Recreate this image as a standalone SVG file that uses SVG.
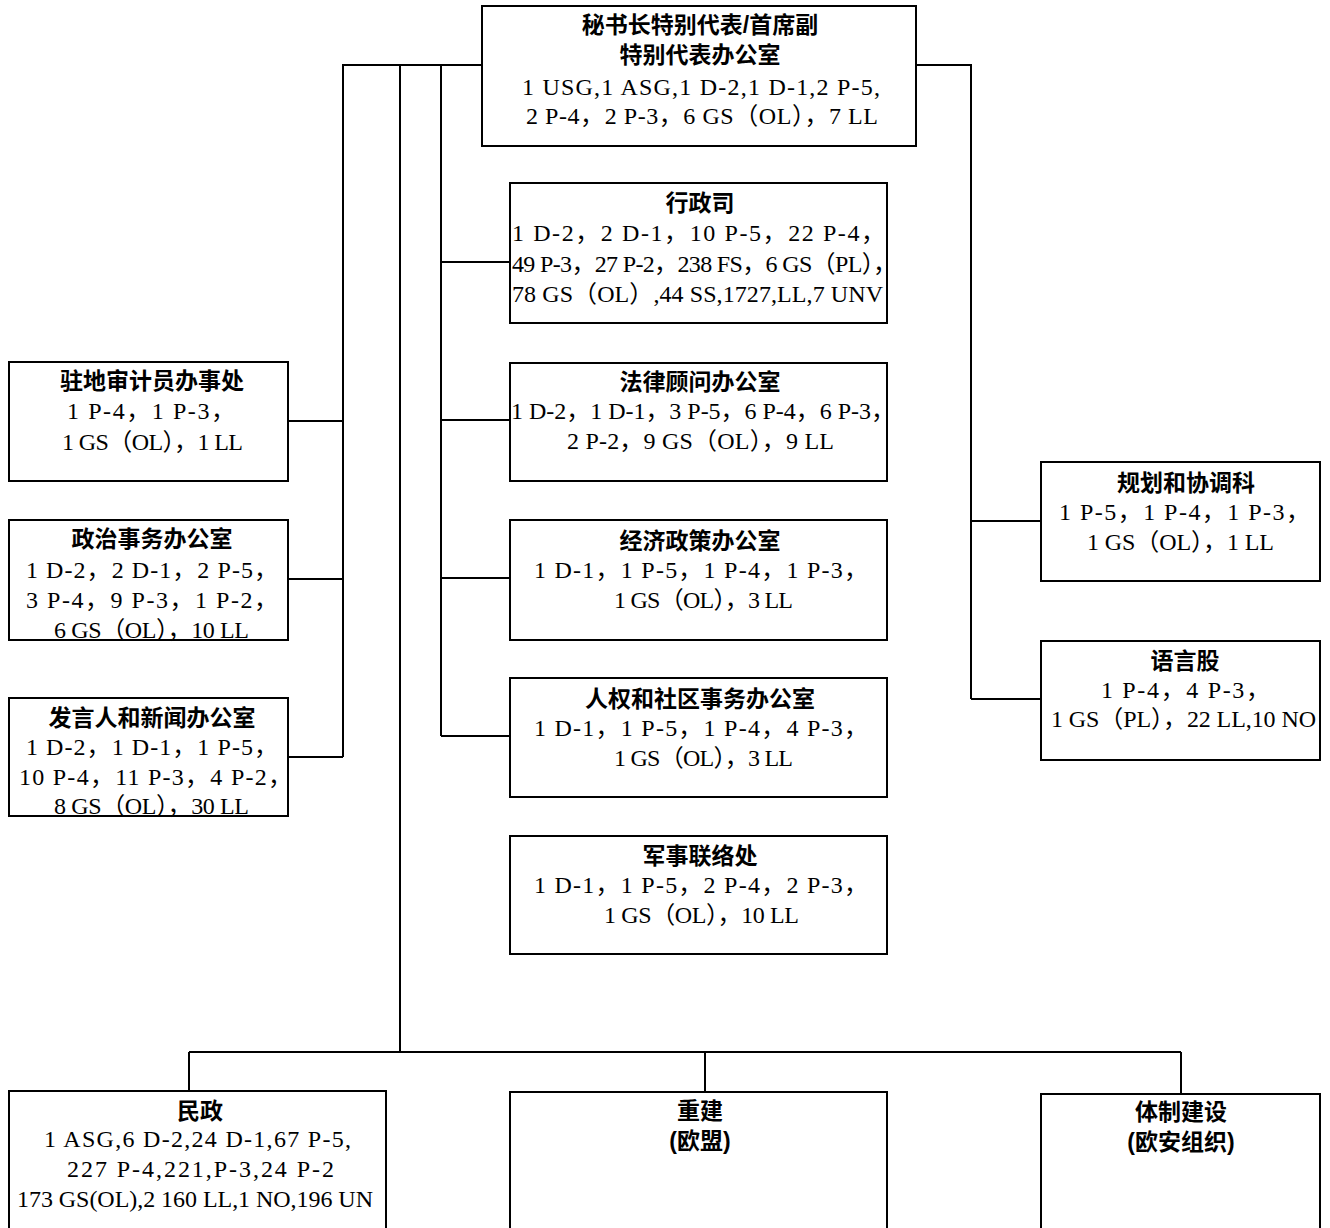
<svg xmlns="http://www.w3.org/2000/svg" width="1330" height="1228" viewBox="0 0 1330 1228">
<style>
.bg{fill:#fff}
.box{fill:#fff;stroke:#000;stroke-width:2}
.c{fill:none;stroke:#000;stroke-width:2}
.t{font-family:"Liberation Sans","Noto Sans CJK SC",sans-serif;font-weight:bold;font-size:23px;text-anchor:middle;fill:#000}
.d{font-family:"Liberation Serif","Noto Sans CJK SC",serif;font-size:24px;fill:#000}
</style>
<rect class="bg" x="0" y="0" width="1330" height="1228"/>
<g id="connectors">
<path class="c" d="M482,65 H343 V757"/>
<path class="c" d="M288,421 H343 M288,579 H343 M288,757 H343"/>
<path class="c" d="M400,65 V1052"/>
<path class="c" d="M441,65 V736 M441,262 H510 M441,420 H510 M441,578 H510 M441,736 H510"/>
<path class="c" d="M916,65 H971 V699 M971,521 H1041 M971,699 H1041"/>
<path class="c" d="M189,1052 H1181 M189,1052 V1091 M705,1052 V1092 M1181,1052 V1094"/>
</g>
<g id="srsg">
<rect class="box" x="482" y="6" width="434" height="140"/>
<text class="t" x="700" y="33">秘书长特别代表/首席副</text>
<text class="t" x="700" y="63">特别代表办公室</text>
<text class="d" x="522" y="95" textLength="358">1 USG,1 ASG,1 D-2,1 D-1,2 P-5,</text>
<text class="d" x="526" y="124" textLength="352">2 P-4，2 P-3，6 GS（OL），7 LL</text>
</g>
<g id="admin">
<rect class="box" x="510" y="183" width="377" height="140"/>
<text class="t" x="700" y="211">行政司</text>
<text class="d" x="512" y="241" textLength="373">1 D-2，2 D-1，10 P-5，22 P-4，</text>
<text class="d" x="512" y="272" textLength="385">49 P-3，27 P-2，238 FS，6 GS（PL），</text>
<text class="d" x="512" y="302" textLength="371">78 GS（OL）,44 SS,1727,LL,7 UNV</text>
</g>
<g id="legal">
<rect class="box" x="510" y="363" width="377" height="118"/>
<text class="t" x="700" y="390">法律顾问办公室</text>
<text class="d" x="511" y="419" textLength="384">1 D-2，1 D-1，3 P-5，6 P-4，6 P-3，</text>
<text class="d" x="567" y="449" textLength="267">2 P-2，9 GS（OL），9 LL</text>
</g>
<g id="econ">
<rect class="box" x="510" y="520" width="377" height="120"/>
<text class="t" x="700" y="549">经济政策办公室</text>
<text class="d" x="534" y="578" textLength="334">1 D-1，1 P-5，1 P-4，1 P-3，</text>
<text class="d" x="614" y="608" textLength="179">1 GS（OL），3 LL</text>
</g>
<g id="hr">
<rect class="box" x="510" y="678" width="377" height="119"/>
<text class="t" x="700" y="707">人权和社区事务办公室</text>
<text class="d" x="534" y="736" textLength="334">1 D-1，1 P-5，1 P-4，4 P-3，</text>
<text class="d" x="614" y="766" textLength="179">1 GS（OL），3 LL</text>
</g>
<g id="military">
<rect class="box" x="510" y="836" width="377" height="118"/>
<text class="t" x="700" y="864">军事联络处</text>
<text class="d" x="534" y="893" textLength="334">1 D-1，1 P-5，2 P-4，2 P-3，</text>
<text class="d" x="604" y="923" textLength="195">1 GS（OL），10 LL</text>
</g>
<g id="auditor">
<rect class="box" x="9" y="362" width="279" height="119"/>
<text class="t" x="152" y="389">驻地审计员办事处</text>
<text class="d" x="67" y="419" textLength="168">1 P-4，1 P-3，</text>
<text class="d" x="62" y="450" textLength="181">1 GS（OL），1 LL</text>
</g>
<g id="political">
<rect class="box" x="9" y="520" width="279" height="120"/>
<text class="t" x="152" y="547">政治事务办公室</text>
<text class="d" x="26" y="578" textLength="252">1 D-2，2 D-1，2 P-5，</text>
<text class="d" x="26" y="608" textLength="252">3 P-4，9 P-3，1 P-2，</text>
<text class="d" x="54" y="638" textLength="195">6 GS（OL），10 LL</text>
</g>
<g id="spokesman">
<rect class="box" x="9" y="698" width="279" height="118"/>
<text class="t" x="152" y="726">发言人和新闻办公室</text>
<text class="d" x="26" y="755" textLength="252">1 D-2，1 D-1，1 P-5，</text>
<text class="d" x="19" y="785" textLength="273">10 P-4，11 P-3，4 P-2，</text>
<text class="d" x="54" y="814" textLength="195">8 GS（OL），30 LL</text>
</g>
<g id="planning">
<rect class="box" x="1041" y="462" width="279" height="119"/>
<text class="t" x="1186" y="491">规划和协调科</text>
<text class="d" x="1059" y="520" textLength="251">1 P-5，1 P-4，1 P-3，</text>
<text class="d" x="1087" y="550" textLength="187">1 GS（OL），1 LL</text>
</g>
<g id="language">
<rect class="box" x="1041" y="641" width="279" height="119"/>
<text class="t" x="1185" y="669">语言股</text>
<text class="d" x="1101" y="698" textLength="169">1 P-4，4 P-3，</text>
<text class="d" x="1051" y="727" textLength="265">1 GS（PL），22 LL,10 NO</text>
</g>
<g id="civil">
<rect class="box" x="9" y="1091" width="377" height="150"/>
<text class="t" x="200" y="1119">民政</text>
<text class="d" x="44" y="1147" textLength="307">1 ASG,6 D-2,24 D-1,67 P-5,</text>
<text class="d" x="67" y="1177" textLength="267">227 P-4,221,P-3,24 P-2</text>
<text class="d" x="17" y="1207" textLength="356">173 GS(OL),2 160 LL,1 NO,196 UN</text>
</g>
<g id="reconstruction">
<rect class="box" x="510" y="1092" width="377" height="150"/>
<text class="t" x="700" y="1119">重建</text>
<text class="t" x="700" y="1149">(欧盟)</text>
</g>
<g id="institution">
<rect class="box" x="1041" y="1094" width="279" height="150"/>
<text class="t" x="1181" y="1120">体制建设</text>
<text class="t" x="1181" y="1150">(欧安组织)</text>
</g>
</svg>
